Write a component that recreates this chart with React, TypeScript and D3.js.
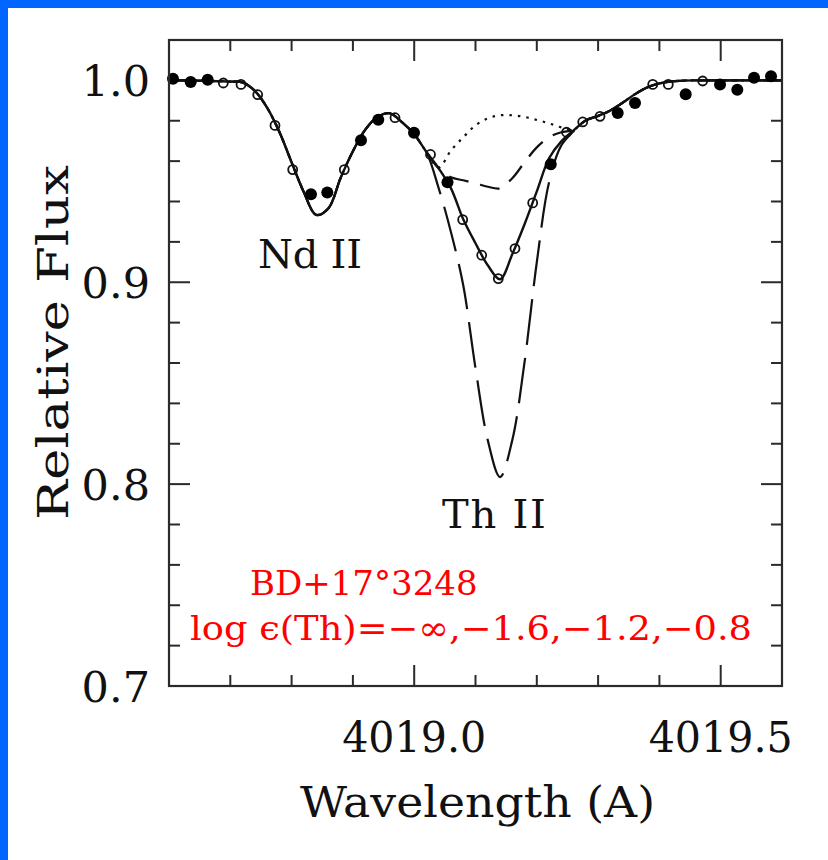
import React from 'react';
import * as d3 from 'd3';

// ---------- data ----------
const xDomain: [number, number] = [4018.6, 4019.6];
const yDomain: [number, number] = [0.7, 1.02];
const xMajorTicks = [4019.0, 4019.5];
const xTickLabels = ['4019.0', '4019.5'];
const yMajorTicks = [0.7, 0.8, 0.9, 1.0];
const yTickLabels = ['0.7', '0.8', '0.9', '1.0'];

// synthetic spectra: shared blue part (Nd II region)
const waveBlue = [4018.60, 4018.62, 4018.64, 4018.66, 4018.68, 4018.70, 4018.72, 4018.74, 4018.76, 4018.78, 4018.80,
  4018.82, 4018.84, 4018.86, 4018.88, 4018.90, 4018.92, 4018.94, 4018.96, 4018.98, 4019.00, 4019.02];
const fluxBlue = [1.0000, 1.0000, 0.9999, 0.9998, 0.9996, 0.9994, 0.9990, 0.9948, 0.9865, 0.9745, 0.9594,
  0.9446, 0.9334, 0.9366, 0.9517, 0.9649, 0.9755, 0.9819, 0.9837, 0.9793, 0.9733, 0.9645];
// Th II region, four abundances
const waveTh = [4019.04, 4019.06, 4019.08, 4019.10, 4019.12, 4019.14, 4019.16, 4019.18, 4019.20, 4019.22, 4019.24, 4019.26];
const fluxNoTh = [0.9569, 0.9653, 0.9718, 0.9777, 0.9812, 0.9827, 0.9827, 0.9819, 0.9804, 0.9787, 0.9767, 0.9757];
const fluxTh16 = [0.9564, 0.9520, 0.9505, 0.9490, 0.9473, 0.9465, 0.9515, 0.9594, 0.9668, 0.9718, 0.9743, 0.9755];
const fluxTh12 = [0.9564, 0.9465, 0.9312, 0.9193, 0.9084, 0.9015, 0.9139, 0.9287, 0.9450, 0.9614, 0.9698, 0.9752];
const fluxTh08 = [0.9465, 0.9248, 0.8985, 0.8574, 0.8218, 0.8035, 0.8218, 0.8604, 0.9099, 0.9495, 0.9678, 0.9748];
// shared red part
const waveRed = [4019.28, 4019.30, 4019.32, 4019.34, 4019.36, 4019.38, 4019.40, 4019.42, 4019.44, 4019.46, 4019.48,
  4019.50, 4019.52, 4019.54, 4019.56, 4019.58, 4019.60];
const fluxRed = [0.9802, 0.9824, 0.9851, 0.9889, 0.9931, 0.9965, 0.9985, 0.9995, 0.9999, 1.0000, 1.0000,
  1.0000, 1.0000, 1.0000, 1.0000, 1.0000, 1.0000];

// observed spectrum (points drawn as solid dots)
const obsDotWave = [4018.6065, 4018.6354, 4018.6631, 4018.8316, 4018.8582, 4018.9132, 4018.9414, 4018.9997, 4019.0543,
  4019.2227, 4019.3320, 4019.3602, 4019.4429, 4019.4989, 4019.5271, 4019.5544, 4019.5821];
const obsDotFlux = [1.0008, 0.9992, 1.0003, 0.9436, 0.9444, 0.9703, 0.9805, 0.9740, 0.9495,
  0.9584, 0.9838, 0.9888, 0.9931, 0.9980, 0.9954, 1.0013, 1.0020];
// observed spectrum (points drawn as rings)
const obsRingWave = [4018.6886, 4018.7175, 4018.7447, 4018.7729, 4018.8018, 4018.8860, 4018.9687, 4019.0266, 4019.0791,
  4019.1101, 4019.1372, 4019.1644, 4019.1933, 4019.2485, 4019.2749, 4019.3031, 4019.3891, 4019.4145, 4019.4706];
const obsRingFlux = [0.9987, 0.9980, 0.9929, 0.9777, 0.9558, 0.9558, 0.9815, 0.9633, 0.9310,
  0.9134, 0.9018, 0.9167, 0.9393, 0.9743, 0.9794, 0.9822, 0.9980, 0.9980, 0.9997];

const lineLabels = ['Nd II', 'Th II'];
const lineLabelWave = [4018.83, 4019.13];
const lineLabelFlux = [0.9069, 0.7782];
const starName = 'BD+17°3248';
const abundText = 'log ϵ(Th)=−∞,−1.6,−1.2,−0.8';
const xTitle = 'Wavelength (A)';
const yTitle = 'Relative Flux';

// ---------- layout ----------
const W = 828;
const H = 860;
const L = 169, R = 782, T = 40, B = 686;
const FONT = '"DejaVu Serif", serif';

export default function App() {
  const x = d3.scaleLinear().domain(xDomain).range([L, R]);
  const y = d3.scaleLinear().domain(yDomain).range([B, T]);

  const wave = [...waveBlue, ...waveTh, ...waveRed];
  const mk = (mid: number[]) => [...fluxBlue, ...mid, ...fluxRed].map((f, i) => [wave[i], f] as [number, number]);
  const line = d3.line<[number, number]>().x(d => x(d[0])).y(d => y(d[1])).curve(d3.curveCatmullRom.alpha(0.5));

  const xMinor = d3.range(0, 11).map(i => xDomain[0] + i * 0.1).filter(v => !xMajorTicks.some(m => Math.abs(m - v) < 1e-6));
  const yMinor = d3.range(0, 17).map(i => 0.7 + i * 0.02).filter(v => !yMajorTicks.some(m => Math.abs(m - v) < 1e-6));
  const maj = 21, mnr = 11;
  const axisColor = '#2a2a2a';

  return (
    <div style={{ position: 'fixed', left: 0, top: 0, width: W, height: H }}>
      <svg width={W} height={H} style={{ display: 'block' }}>
        <rect x={0} y={0} width={W} height={H} fill="#ffffff" />
        <rect x={0} y={0} width={W} height={8} fill="#0066ff" />
        <rect x={0} y={0} width={8} height={H} fill="#0066ff" />

        {/* ticks */}
        <g stroke={axisColor} strokeWidth={2}>
          {xMajorTicks.map(v => (
            <g key={'xm' + v}>
              <line x1={x(v)} x2={x(v)} y1={B} y2={B - maj} />
              <line x1={x(v)} x2={x(v)} y1={T} y2={T + maj} />
            </g>
          ))}
          {xMinor.map(v => (
            <g key={'xn' + v}>
              <line x1={x(v)} x2={x(v)} y1={B} y2={B - mnr} />
              <line x1={x(v)} x2={x(v)} y1={T} y2={T + mnr} />
            </g>
          ))}
          {yMajorTicks.map(v => (
            <g key={'ym' + v}>
              <line x1={L} x2={L + maj} y1={y(v)} y2={y(v)} />
              <line x1={R} x2={R - maj} y1={y(v)} y2={y(v)} />
            </g>
          ))}
          {yMinor.map(v => (
            <g key={'yn' + v}>
              <line x1={L} x2={L + mnr} y1={y(v)} y2={y(v)} />
              <line x1={R} x2={R - mnr} y1={y(v)} y2={y(v)} />
            </g>
          ))}
        </g>

        {/* ring points underneath lines */}
        {obsRingWave.map((w, i) => (
          <circle key={'r' + i} cx={x(w)} cy={y(obsRingFlux[i])} r={4.5} fill="#ffffff" stroke="#111" strokeWidth={1.8} />
        ))}

        {/* model spectra */}
        <g fill="none" stroke="#111" strokeLinecap="butt">
          <path d={line(mk(fluxNoTh)) || ''} strokeWidth={2.2} strokeDasharray="2.5,6" />
          <path d={line(mk(fluxTh16)) || ''} strokeWidth={2.2} strokeDasharray="20,12" />
          <path d={line(mk(fluxTh08)) || ''} strokeWidth={2.2} strokeDasharray="46,13" />
          <path d={line(mk(fluxTh12)) || ''} strokeWidth={2.4} />
        </g>

        {/* filled points */}
        {obsDotWave.map((w, i) => (
          <circle key={'d' + i} cx={x(w)} cy={y(obsDotFlux[i])} r={6} fill="#000" />
        ))}

        {/* frame */}
        <rect x={L} y={T} width={R - L} height={B - T} fill="none" stroke={axisColor} strokeWidth={2.2} />

        {/* tick labels */}
        <g fontFamily={FONT} fontSize={43} fill="#111">
          {yMajorTicks.map((v, i) => (
            <text key={'yl' + v} x={150} y={y(v) + 16} textAnchor="end">{yTickLabels[i]}</text>
          ))}
          {xMajorTicks.map((v, i) => (
            <text key={'xl' + v} x={x(v) - 72} y={752} textLength={144} lengthAdjust="spacingAndGlyphs">{xTickLabels[i]}</text>
          ))}
        </g>

        {/* axis titles */}
        <text x={300} y={817} fontFamily={FONT} fontSize={42} fill="#111" textLength={355} lengthAdjust="spacingAndGlyphs">{xTitle}</text>
        <text transform={`translate(68,520) rotate(-90)`} fontFamily={FONT} fontSize={42} fill="#111" textLength={355} lengthAdjust="spacingAndGlyphs">{yTitle}</text>

        {/* line identifications */}
        {lineLabels.map((s, i) => (
          <text key={s} x={x(lineLabelWave[i]) - 52} y={y(lineLabelFlux[i])} fontFamily={FONT} fontSize={40} fill="#111" textLength={104} lengthAdjust="spacing">{s}</text>
        ))}

        {/* annotation */}
        <text x={250} y={595} fontFamily={FONT} fontSize={34} fill="#ff0000">{starName}</text>
        <text x={190} y={640} fontFamily={FONT} fontSize={34} fill="#ff0000" textLength={562} lengthAdjust="spacingAndGlyphs">{abundText}</text>
      </svg>
    </div>
  );
}
